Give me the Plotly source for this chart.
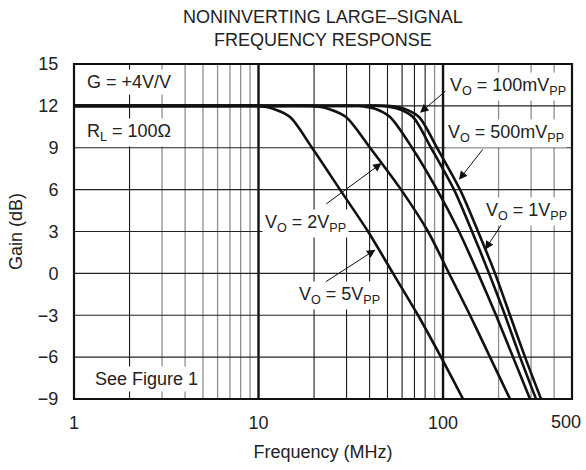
import plotly.graph_objects as go
import math

# ---- data (frequency MHz, gain dB) ----
f_5v = [1, 6.18, 9.94, 11.98, 14.82, 19.50, 27.65, 39.22, 53.58, 73.19, 97.54, 128.4]
g_5v = [12, 12, 12, 11.8, 11.2, 9, 6, 3, 0, -3, -6, -9]

f_2v = [1, 12.0, 19.50, 23.81, 29.80, 40.21, 59.21, 82.93, 107.8, 140.1, 179.7, 230.7]
g_2v = [12, 12, 12, 11.8, 11.2, 9, 6, 3, 0, -3, -6, -9]

f_1v = [1, 21.0, 34.62, 42.80, 51.61, 67.92, 92.77, 122.1, 154.8, 193.8, 239.6, 296.1]
g_1v = [12, 12, 12, 11.8, 11.2, 9, 6, 3, 0, -3, -6, -9]

f_500m = [1, 28.0, 46.71, 57.03, 68.77, 86.10, 114.7, 143.6, 177.6, 216.8, 261.5, 319.2]
g_500m = [12, 12, 12, 11.8, 11.2, 9, 6, 3, 0, -3, -6, -9]

f_100m = [1, 30.0, 50.33, 61.45, 74.13, 92.77, 123.6, 154.8, 191.3, 230.7, 278.3, 339.8]
g_100m = [12, 12, 12, 11.8, 11.2, 9, 6, 3, 0, -3, -6, -9]

series = [(f_5v, g_5v), (f_2v, g_2v), (f_1v, g_1v), (f_500m, g_500m), (f_100m, g_100m)]

x_ticks = [1, 10, 100, 500]
x_ticklabels = ["1", "10", "100", "500"]
y_ticks = [15, 12, 9, 6, 3, 0, -3, -6, -9]
grid_dark = [2, 20, 30, 40, 50, 60, 70, 80]
grid_gray = [3, 4, 5, 6, 7, 8, 9, 90, 200, 300, 400]
grid_major = [10, 100]

fig = go.Figure()
for fx, gy in series:
    fig.add_trace(go.Scatter(x=fx, y=gy, mode="lines",
                             line=dict(color="#111111", width=2.6, shape="spline", smoothing=0.8),
                             hoverinfo="skip", showlegend=False))

shapes = []
for v in grid_gray:
    shapes.append(dict(type="line", xref="x", yref="paper", x0=v, x1=v, y0=0, y1=1,
                       line=dict(color="#8f8f8f", width=1.3), layer="below"))
for v in grid_dark:
    shapes.append(dict(type="line", xref="x", yref="paper", x0=v, x1=v, y0=0, y1=1,
                       line=dict(color="#1a1a1a", width=1.1), layer="below"))
for v in grid_major:
    shapes.append(dict(type="line", xref="x", yref="paper", x0=v, x1=v, y0=0, y1=1,
                       line=dict(color="#111111", width=2.4), layer="below"))
for v in y_ticks:
    shapes.append(dict(type="line", xref="paper", yref="y", x0=0, x1=1, y0=v, y1=v,
                       line=dict(color="#222222", width=1.1), layer="below"))
shapes.append(dict(type="rect", xref="paper", yref="paper", x0=0, x1=1, y0=0, y1=1,
                   line=dict(color="#111111", width=2.2), layer="above"))

FAM = "Liberation Sans, Arial, sans-serif"
font = dict(family=FAM, size=18, color="#222222")
lg = math.log10

annotations = [
    dict(x=lg(1.13), y=13.71, text="G = +4V/V"),
    dict(x=lg(1.13), y=10.06, text="R<sub>L</sub> = 100Ω"),
    dict(x=lg(1.25), y=-7.57, text="See Figure 1"),
    dict(x=lg(105), y=13.42, text="V<sub>O</sub> = 100mV<sub>PP</sub>"),
    dict(x=lg(102.5), y=9.99, text="V<sub>O</sub> = 500mV<sub>PP</sub>"),
    dict(x=lg(164.8), y=4.4, text="V<sub>O</sub> = 1V<sub>PP</sub>"),
    dict(x=lg(10.45), y=3.54, text="V<sub>O</sub> = 2V<sub>PP</sub>"),
    dict(x=lg(15.97), y=-1.62, text="V<sub>O</sub> = 5V<sub>PP</sub>"),
]
for a in annotations:
    a.update(xref="x", yref="y", showarrow=False, bgcolor="white", font=font,
             xanchor="left", yanchor="middle", borderpad=2)

arrows = [
    (lg(75), 11.5, 27, -23),
    (lg(122), 6.7, 25, -32),
    (lg(169), 1.7, 17, -26),
    (lg(46.5), 7.9, -57, 42),
    (lg(43), 1.7, -51, 33),
]
for x, y, ax, ay in arrows:
    annotations.append(dict(x=x, y=y, xref="x", yref="y", ax=ax, ay=ay, text="",
                            showarrow=True, arrowhead=2, arrowsize=1.7, arrowwidth=1,
                            arrowcolor="#111111"))

title_lines = ["NONINVERTING LARGE–SIGNAL", "FREQUENCY RESPONSE"]
for txt, shift in zip(title_lines, [47, 24]):
    annotations.append(dict(x=0.5, y=1.0, xref="paper", yref="paper", yshift=shift,
                            text=txt, showarrow=False,
                            font=dict(family=FAM, size=18, color="#222222"),
                            xanchor="center", yanchor="middle"))
# last x tick label, nudged left to stay inside the page
annotations.append(dict(x=lg(x_ticks[-1]), y=0, xref="x", yref="paper", yshift=-11, xshift=-6,
                        text=x_ticklabels[-1], showarrow=False, font=font,
                        xanchor="center", yanchor="top"))

fig.update_layout(
    width=586, height=470,
    margin=dict(l=74, r=14, t=64, b=71),
    paper_bgcolor="white", plot_bgcolor="white",
    font=font,
    shapes=shapes, annotations=annotations,
    xaxis=dict(type="log", range=[0, lg(500)], tickvals=x_ticks[:-1],
               ticktext=x_ticklabels[:-1], showgrid=False, zeroline=False,
               ticks="outside", ticklen=7, tickcolor="rgba(0,0,0,0)",
               title=dict(text="Frequency (MHz)", font=font, standoff=13),
               tickfont=font),
    yaxis=dict(range=[-9, 15], tickvals=y_ticks,
               ticktext=[str(v).replace("-", "−") for v in y_ticks], showgrid=False,
               zeroline=False, ticks="outside", ticklen=11, tickcolor="rgba(0,0,0,0)",
               title=dict(text="Gain (dB)", font=font, standoff=10),
               tickfont=font),
)

fig.write_html("out.html", config={"displayModeBar": False, "staticPlot": True},
               post_script="document.body.style.margin='0px';document.body.style.overflow='hidden';")
